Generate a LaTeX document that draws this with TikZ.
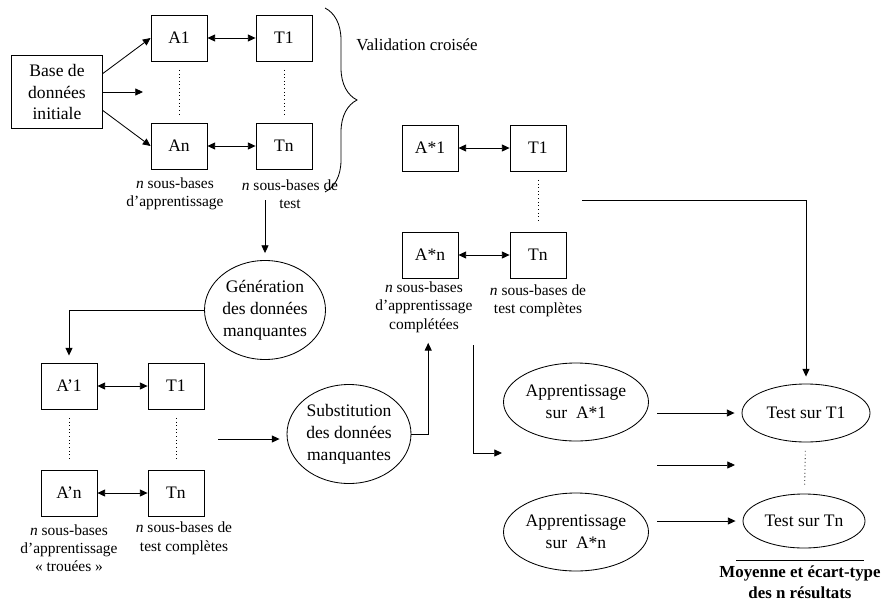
\documentclass[tikz,border=0pt]{standalone}
\usepackage{fontspec}
\setmainfont{Liberation Serif}
\usetikzlibrary{arrows.meta, shapes.geometric, decorations.pathreplacing}
\definecolor{linecol}{HTML}{000000}
\definecolor{textcol}{HTML}{000000}

\begin{document}
\begin{tikzpicture}[
    >={Triangle[length=5.5pt, width=5pt]},
    every node/.style={text=textcol},
    setbox/.style={
        draw=linecol, line width=0.6pt, inner sep=2pt,
        minimum width=1.4cm, minimum height=1.15cm,
        font=\fontsize{12.5}{15.5}\selectfont,
    },
    basebox/.style={
        setbox, align=center,
        minimum width=2.275cm, minimum height=1.825cm,
    },
    stepell/.style={
        ellipse, draw=linecol, line width=0.6pt, align=center, inner sep=0pt,
        font=\fontsize{12.5}{15.5}\selectfont,
    },
    arr/.style={->, line width=0.6pt, draw=linecol},
    biarr/.style={<->, line width=0.6pt, draw=linecol},
    dotcol/.style={dotted, line width=0.6pt, draw=linecol, shorten <=6pt, shorten >=6pt},
    lbl/.style={align=center, font=\fontsize{11}{13}\selectfont},
    sumtext/.style={align=center, font=\fontsize{12}{15}\selectfont\bfseries},
]

\useasboundingbox (0, 0) rectangle (22.35, -15.125);

% === Cross-validation split (top left) ===
\node[basebox] (base) at (1.425, -2.3) {Base de\\données\\initiale};
\node[setbox] (a1) at (4.475, -0.95) {A1};
\node[setbox] (t1) at (7.1, -0.95) {T1};
\node[setbox] (an) at (4.475, -3.65) {An};
\node[setbox] (tn) at (7.1, -3.65) {Tn};
\coordinate (amid) at (3.575, -2.3);

\node[lbl] (lbla) at (4.375, -4.85) {\textit{n} sous-bases\\d’apprentissage};
\node[lbl] (lblt) at (7.25, -4.85) {\textit{n} sous-bases de\\test};

\draw[arr] (base.22) -- (a1.west);
\draw[arr] (base.east) -- (amid);
\draw[arr] (base.-22) -- (an.west);
\draw[biarr] (a1) -- (t1);
\draw[biarr] (an) -- (tn);
\draw[dotcol] (a1) -- (an);
\draw[dotcol] (t1) -- (tn);

% brace round the split
\coordinate (brtop) at (8.125, -0.2);
\coordinate (brbot) at (8.125, -4.8);
\draw[draw=linecol, line width=0.6pt, decorate, decoration={brace, amplitude=0.8cm}]
    (brtop) -- (brbot);
\node[font=\fontsize{12}{14}\selectfont] (valid) at (10.425, -1.125) {Validation croisée};

% === Missing data generation ===
\coordinate (gsplit) at (6.625, -5.0);
\node[stepell, minimum width=3.025cm, minimum height=2.475cm] (gen) at (6.625, -7.75)
    {Génération\\des données\\manquantes};
\draw[arr, shorten >=5pt] (gsplit) -- (gen.north);

% === Holed learning bases (bottom left) ===
\node[setbox] (ap1) at (1.725, -9.65) {A’1};
\node[setbox] (at1) at (4.4, -9.65) {T1};
\node[setbox] (apn) at (1.725, -12.325) {A’n};
\node[setbox] (atn) at (4.4, -12.325) {Tn};

\node[lbl] (lblap) at (1.725, -13.7) {\textit{n} sous-bases\\d’apprentissage\\« trouées »};
\node[lbl] (lblatp) at (4.6, -13.46) {\textit{n} sous-bases de\\test complètes};

\draw[arr, shorten >=5pt] (gen.west) -| (ap1.north);
\draw[biarr] (ap1) -- (at1);
\draw[biarr] (apn) -- (atn);
\draw[dotcol] (ap1) -- (apn);
\draw[dotcol] (at1) -- (atn);

% === Substitution ===
\coordinate (pmid) at (5.45, -10.975);
\node[stepell, minimum width=3.1cm, minimum height=2.475cm] (subst) at (8.725, -10.85)
    {Substitution\\des données\\manquantes};
\draw[arr, shorten >=5pt] (pmid) -- (pmid -| subst.west);

% === Completed bases ===
\node[setbox] (as1) at (10.75, -3.7) {A*1};
\node[setbox] (ast1) at (13.45, -3.7) {T1};
\node[setbox] (asn) at (10.75, -6.375) {A*n};
\node[setbox] (astn) at (13.45, -6.375) {Tn};

\node[lbl] (lblas) at (10.6, -7.675) {\textit{n} sous-bases\\d’apprentissage\\complétées};
\node[lbl] (lblats) at (13.45, -7.525) {\textit{n} sous-bases de\\test complètes};

\draw[biarr] (as1) -- (ast1);
\draw[biarr] (asn) -- (astn);
\draw[dotcol] (ast1) -- (astn);
\draw[arr, shorten >=4pt] (subst.east) -| ([xshift=3pt]lblas.south);

% === Learning and testing (right) ===
\coordinate (fork) at (11.825, -8.625);
\coordinate (appin) at (12.55, -11.325);
\coordinate (tstart) at (14.55, -5.0);
\coordinate (mida) at (16.425, -11.625);
\coordinate (midb) at (18.375, -11.625);

\node[stepell, minimum width=3.625cm, minimum height=1.95cm] (app1) at (14.4, -10.05)
    {Apprentissage\\sur \ A*1};
\node[stepell, minimum width=3.625cm, minimum height=1.95cm] (appn) at (14.4, -13.3)
    {Apprentissage\\sur \ A*n};
\node[stepell, minimum width=3.2cm, minimum height=1.45cm] (test1) at (20.15, -10.325)
    {Test sur T1};
\node[stepell, minimum width=3.05cm, minimum height=1.35cm] (testn) at (20.1, -13.025)
    {Test sur Tn};

\draw[arr] (fork) |- (appin);
\draw[arr, shorten >=5pt] (tstart) -| (test1.north);
\draw[arr, shorten <=6pt, shorten >=5pt] (app1.east |- test1.west) -- (test1.west);
\draw[arr] (mida) -- (midb);
\draw[arr, shorten <=6pt, shorten >=5pt] (appn.east |- testn.west) -- (testn.west);
\draw[dotcol] (test1) -- (testn);

% summary under the tests
\node[sumtext] (res) at (20.0, -14.55) {Moyenne et écart-type\\des n résultats};
\draw[draw=linecol, line width=0.6pt] ([xshift=-1.6cm]res.north) -- ([xshift=1.6cm]res.north);

\end{tikzpicture}
\end{document}
